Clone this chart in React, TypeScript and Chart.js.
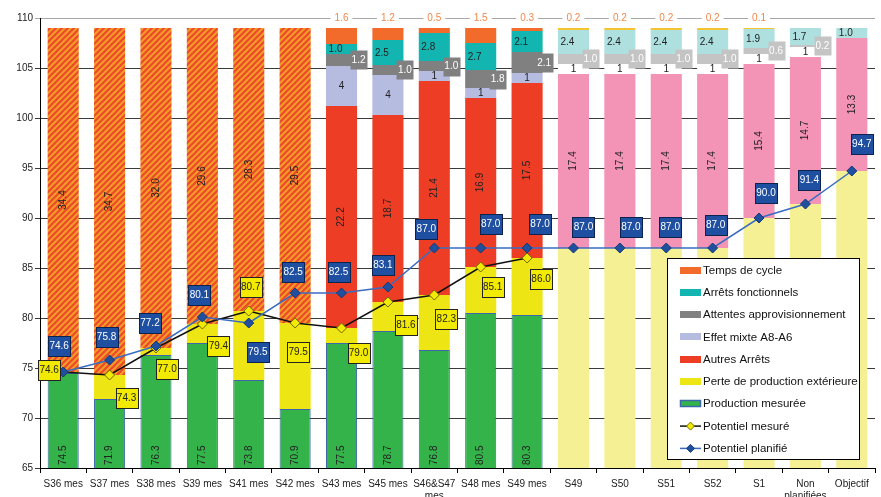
import React, { useEffect, useRef } from 'react';
import { Chart, registerables } from 'chart.js';

Chart.register(...registerables);

const FONT = '"Liberation Sans", Arial, sans-serif';

// ---------- DATA ----------
const categories: (string | string[])[] = [
  'S36 mes', 'S37 mes', 'S38 mes', 'S39 mes', 'S41 mes', 'S42 mes', 'S43 mes', 'S45 mes',
  ['S46&S47', 'mes'], 'S48 mes', 'S49 mes', 'S49', 'S50', 'S51', 'S52', 'S1', ['Non', 'planifiées'], 'Objectif',
];
const measuredCount = 11;

const productionMesuree = [74.5, 71.9, 76.3, 77.5, 73.8, 70.9, 77.5, 78.7, 76.8, 80.5, 80.3, null, null, null, null, null, null, null];
const basePlanifiee = [null, null, null, null, null, null, null, null, null, null, null, 87.0, 87.0, 87.0, 87.0, 90.0, 91.4, 94.7];
const perteExterieure = [0.1, 2.4, 0.7, 1.9, 6.9, 8.6, 1.5, 2.9, 5.5, 4.6, 5.7, null, null, null, null, null, null, null];
const pertesGlobales = [34.4, 34.7, 32.0, 29.6, 28.3, 29.5, null, null, null, null, null, null, null, null, null, null, null, null];
const autresArrets = [null, null, null, null, null, null, 22.2, 18.7, 21.4, 16.9, 17.5, 17.4, 17.4, 17.4, 17.4, 15.4, 14.7, 13.3];
const effetMixte = [null, null, null, null, null, null, 4, 4, 1, 1, 1, 1, 1, 1, 1, 1, 1, null];
const attentesAppro = [null, null, null, null, null, null, 1.2, 1.0, 1.0, 1.8, 2.1, 1.0, 1.0, 1.0, 1.0, 0.6, 0.2, null];
const arretsFonctionnels = [null, null, null, null, null, null, 1.0, 2.5, 2.8, 2.7, 2.1, 2.4, 2.4, 2.4, 2.4, 1.9, 1.7, 1.0];
const tempsDeCycle = [null, null, null, null, null, null, 1.6, 1.2, 0.5, 1.5, 0.3, 0.2, 0.2, 0.2, 0.2, 0.1, null, null];

const potentielMesure = [74.6, 74.3, 77.0, 79.4, 80.7, 79.5, 79.0, 81.6, 82.3, 85.1, 86.0, null, null, null, null, null, null, null];
const potentielPlanifie = [74.6, 75.8, 77.2, 80.1, 79.5, 82.5, 82.5, 83.1, 87.0, 87.0, 87.0, 87.0, 87.0, 87.0, 87.0, 90.0, 91.4, 94.7];

const yTickMin = 65;
const yTickMax = 110;
const yTickStep = 5;

// label placement (pixels, relative to point)
const planLabelOffsets = [[-4, -26], [-3, -23], [-6, -23], [-3, -22], [9, 29], [-2, -21], [-3, -21], [-5, -22], [-8, -19], [10, -24], [13, -24], [10, -21], [11, -21], [4, -21], [3, -23], [7, -25], [4, -24], [10, -27]];
const mesLabelOffsets = [[-14, -2], [17, 23], [11, 21], [16, 22], [2, -24], [3, 29], [17, 25], [18, 23], [12, 24], [12, 20], [14, 21]];

// ---------- STYLE ----------
const C = {
  cycle: '#f26b2b', cycleP: '#f2c531',
  fonct: '#13b5b1', fonctP: '#aee0e0',
  attente: '#808080', attenteP: '#c4c4c4',
  mixte: '#b6bbe0', mixteP: '#ffffff',
  autres: '#ee3d25', autresP: '#f393b5',
  perte: '#eee614', baseP: '#f5f093',
  prod: '#34b34a', prodBorder: '#3b67ad',
  hatchA: '#f59c28', hatchB: '#ec4a2a',
  planLine: '#3a6cc2', planPoint: '#1f4f9e', planPointBorder: '#173a72',
  mesLine: '#111111', mesPoint: '#f2ea00', mesPointBorder: '#6f6a00',
};

const legendItems = [
  { label: 'Temps de cycle', kind: 'box', color: C.cycle },
  { label: 'Arrêts fonctionnels', kind: 'box', color: C.fonct },
  { label: 'Attentes approvisionnement', kind: 'box', color: C.attente },
  { label: 'Effet mixte A8-A6', kind: 'box', color: C.mixte },
  { label: 'Autres Arrêts', kind: 'box', color: C.autres },
  { label: 'Perte de production extérieure', kind: 'box', color: C.perte },
  { label: 'Production mesurée', kind: 'boxBorder', color: C.prod, border: C.prodBorder },
  { label: 'Potentiel mesuré', kind: 'line', color: C.mesLine, point: C.mesPoint, pointBorder: C.mesPointBorder },
  { label: 'Potentiel planifié', kind: 'line', color: C.planLine, point: C.planPoint, pointBorder: C.planPointBorder },
];

function makeHatch(ctx: CanvasRenderingContext2D) {
  const c = document.createElement('canvas');
  const s = 6;
  c.width = s; c.height = s;
  const g = c.getContext('2d')!;
  g.fillStyle = C.hatchA;
  g.fillRect(0, 0, s, s);
  g.strokeStyle = C.hatchB;
  g.lineWidth = 2.2;
  g.beginPath();
  g.moveTo(-1, s + 1); g.lineTo(s + 1, -1);
  g.moveTo(-1, 1); g.lineTo(1, -1);
  g.moveTo(s - 1, s + 1); g.lineTo(s + 1, s - 1);
  g.stroke();
  return ctx.createPattern(c, 'repeat');
}

function box(ctx: CanvasRenderingContext2D, text: string, cx: number, cy: number, w: number, h: number, fill: string, stroke: string | null, color: string) {
  const x = Math.round(cx - w / 2) + 0.5;
  const y = Math.round(cy - h / 2) + 0.5;
  ctx.fillStyle = fill;
  ctx.fillRect(x, y, w, h);
  if (stroke) {
    ctx.strokeStyle = stroke;
    ctx.lineWidth = 1;
    ctx.strokeRect(x, y, w, h);
  }
  ctx.fillStyle = color;
  ctx.textAlign = 'center';
  ctx.textBaseline = 'middle';
  ctx.fillText(text, cx, cy + 0.5);
}

const segLabels = {
  id: 'segLabels',
  afterDatasetsDraw(chart: any) {
    const { ctx, chartArea } = chart;
    ctx.save();
    ctx.font = `10px ${FONT}`;
    chart.data.datasets.forEach((ds: any, di: number) => {
      const meta = chart.getDatasetMeta(di);
      if (!ds.kind) return;
      meta.data.forEach((el: any, i: number) => {
        const v = ds.data[i];
        if (v == null) return;
        const planned = i >= measuredCount;
        const txt = ds.kind === 'mixte' ? String(v) : v.toFixed(1);
        const x = el.x;
        const mid = el.base !== undefined ? (el.y + el.base) / 2 : el.y;
        ctx.textAlign = 'center';
        ctx.textBaseline = 'middle';
        ctx.fillStyle = '#222';
        if (ds.kind === 'green') {
          ctx.save();
          ctx.translate(x, chartArea.bottom - 3);
          ctx.rotate(-Math.PI / 2);
          ctx.textAlign = 'left';
          ctx.fillText(txt, 0, 0);
          ctx.restore();
        } else if (ds.kind === 'rot') {
          ctx.save();
          ctx.translate(x, mid);
          ctx.rotate(-Math.PI / 2);
          ctx.fillText(txt, 0, 0);
          ctx.restore();
        } else if (ds.kind === 'mixte') {
          ctx.fillText(txt, x, mid + 0.5);
        } else if (ds.kind === 'fonct') {
          ctx.fillText(txt, x - 6, mid + 0.5);
        } else if (ds.kind === 'attente') {
          box(ctx, txt, x + 17, mid, 17, 19, planned ? C.attenteP : C.attente, null, '#ffffff');
        } else if (ds.kind === 'cycle') {
          const w = ctx.measureText(txt).width + 8;
          ctx.fillStyle = '#ffffff';
          ctx.fillRect(x - w / 2, chartArea.top - 6, w, 12);
          ctx.fillStyle = '#f0884c';
          ctx.fillText(txt, x, chartArea.top + 0.5);
        } else if (ds.kind === 'plan') {
          const o = planLabelOffsets[i] || [0, -24];
          box(ctx, txt, x + o[0], el.y + o[1], 22, 20, '#1f4fa0', '#0c2350', '#ffffff');
        } else if (ds.kind === 'mes') {
          const o = mesLabelOffsets[i] || [0, 24];
          box(ctx, txt, x + o[0], el.y + o[1], 22, 20, '#f2ea00', '#222222', '#222222');
        }
      });
    });
    ctx.restore();
  },
};

const boxLegend = {
  id: 'boxLegend',
  afterDraw(chart: any) {
    const ctx = chart.ctx;
    ctx.save();
    ctx.fillStyle = '#ffffff';
    ctx.fillRect(667, 258, 193, 202);
    ctx.strokeStyle = '#000000';
    ctx.lineWidth = 1;
    ctx.strokeRect(667.5, 258.5, 192, 201);
    ctx.font = `11.5px ${FONT}`;
    ctx.textBaseline = 'middle';
    ctx.textAlign = 'left';
    legendItems.forEach((it: any, i: number) => {
      const cy = 270 + i * 22.3;
      if (it.kind === 'box') {
        ctx.fillStyle = it.color;
        ctx.fillRect(680, Math.round(cy - 3.5), 21, 7);
      } else if (it.kind === 'boxBorder') {
        ctx.fillStyle = it.color;
        ctx.fillRect(680, Math.round(cy - 3.5), 21, 7);
        ctx.strokeStyle = it.border;
        ctx.lineWidth = 1.5;
        ctx.strokeRect(680.5, Math.round(cy - 3.5) + 0.5, 20, 6);
      } else {
        ctx.strokeStyle = it.color;
        ctx.lineWidth = 1.5;
        ctx.beginPath();
        ctx.moveTo(680, cy);
        ctx.lineTo(701, cy);
        ctx.stroke();
        ctx.fillStyle = it.point;
        ctx.strokeStyle = it.pointBorder;
        ctx.lineWidth = 1;
        ctx.beginPath();
        ctx.moveTo(690.5, cy - 4);
        ctx.lineTo(694.5, cy);
        ctx.lineTo(690.5, cy + 4);
        ctx.lineTo(686.5, cy);
        ctx.closePath();
        ctx.fill();
        ctx.stroke();
      }
      ctx.fillStyle = '#111111';
      ctx.fillText(it.label, 703, cy + 0.5);
    });
    ctx.restore();
  },
};

export default function App() {
  const ref = useRef<HTMLCanvasElement>(null);
  useEffect(() => {
    const canvas = ref.current!;
    const ctx = canvas.getContext('2d')!;
    const hatch = makeHatch(ctx);
    const pick = (a: string, b: string) => categories.map((_, i) => (i >= measuredCount ? b : a));
    const bar = (label: string, data: any[], bg: any, kind: string | null, extra: any = {}) => ({
      type: 'bar', label, data, backgroundColor: bg, borderWidth: 0, stack: 'bars', order: 1, kind, ...extra,
    });
    const chart = new Chart(canvas, {
      type: 'bar',
      data: {
        labels: categories as any,
        datasets: [
          {
            type: 'line', label: 'Potentiel planifié', data: potentielPlanifie, stack: 'l1', order: 0,
            borderColor: C.planLine, borderWidth: 1.5, pointStyle: 'rectRot', pointRadius: 5,
            pointBackgroundColor: C.planPoint, pointBorderColor: C.planPointBorder, pointBorderWidth: 1,
            tension: 0, kind: 'plan',
          } as any,
          {
            type: 'line', label: 'Potentiel mesuré', data: potentielMesure, stack: 'l2', order: 0,
            borderColor: C.mesLine, borderWidth: 1.5, pointStyle: 'rectRot', pointRadius: 5,
            pointBackgroundColor: C.mesPoint, pointBorderColor: C.mesPointBorder, pointBorderWidth: 1,
            tension: 0, kind: 'mes',
          } as any,
          bar('Production mesurée', productionMesuree, C.prod, 'green', { borderColor: C.prodBorder, borderWidth: 1 }),
          bar('Potentiel planifié (base)', basePlanifiee, C.baseP, null),
          bar('Perte de production extérieure', perteExterieure, C.perte, null),
          bar('Pertes (non détaillées)', pertesGlobales, hatch, 'rot'),
          bar('Autres Arrêts', autresArrets, pick(C.autres, C.autresP), 'rot'),
          bar('Effet mixte A8-A6', effetMixte, pick(C.mixte, C.mixteP), 'mixte'),
          bar('Attentes approvisionnement', attentesAppro, pick(C.attente, C.attenteP), 'attente'),
          bar('Arrêts fonctionnels', arretsFonctionnels, pick(C.fonct, C.fonctP), 'fonct'),
          bar('Temps de cycle', tempsDeCycle, pick(C.cycle, C.cycleP), 'cycle'),
        ] as any,
      },
      options: {
        responsive: false,
        animation: false,
        layout: { padding: { top: 18, right: 6, left: 0, bottom: 0 } },
        datasets: { bar: { barPercentage: 0.67, categoryPercentage: 1 } } as any,
        plugins: { legend: { display: false }, tooltip: { enabled: false } },
        scales: {
          x: {
            stacked: true,
            grid: { display: true, drawOnChartArea: false, drawTicks: true, tickLength: 5, color: '#000', offset: true },
            border: { display: true, color: '#000', width: 1 },
            ticks: { color: '#222', font: { size: 10, family: FONT }, padding: 5, maxRotation: 0, autoSkip: false },
            afterFit: (s: any) => { s.height = 29; },
          },
          y: {
            stacked: true,
            min: yTickMin,
            max: yTickMax,
            ticks: { stepSize: yTickStep, color: '#222', font: { size: 10, family: FONT }, padding: 2 },
            grid: {
              color: (c: any) => (c.tick && c.tick.value === yTickMax ? '#a8a8a8' : '#3a3a3a'),
              tickLength: 5, drawTicks: true,
            },
            border: { display: true, color: '#000', width: 1 },
            afterFit: (s: any) => { s.width = 40; },
          },
        },
      } as any,
      plugins: [segLabels, boxLegend],
    });
    return () => chart.destroy();
  }, []);
  return (
    <div style={{ position: 'fixed', left: 0, top: 0, width: 881, height: 497, background: '#fff' }}>
      <canvas ref={ref} width={881} height={497} style={{ display: 'block' }} />
    </div>
  );
}
